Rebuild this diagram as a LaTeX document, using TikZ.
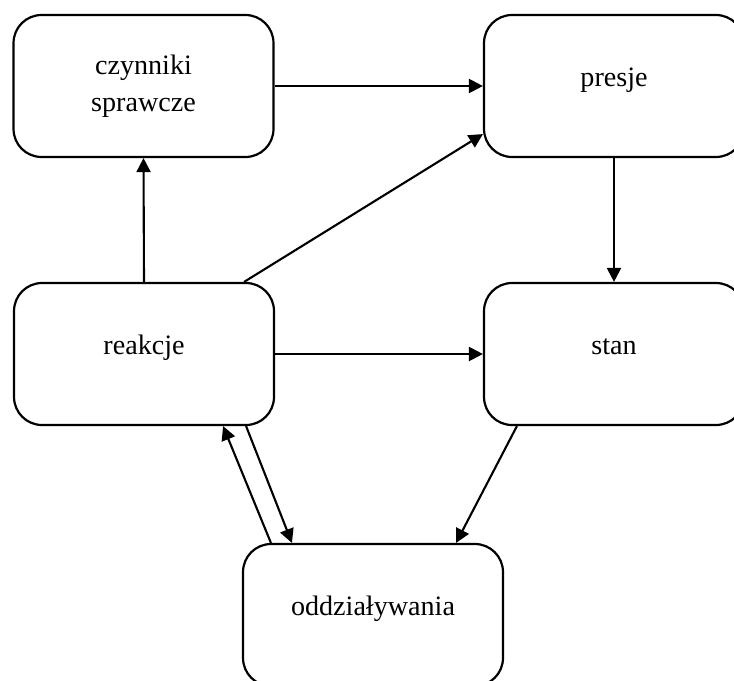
\documentclass[tikz,border=0pt]{standalone}
\usepackage{fontspec}
\setmainfont{Liberation Serif}
\usetikzlibrary{arrows.meta,calc}
\begin{document}
\begin{tikzpicture}[x=0.02cm,y=-0.02cm]
        \tikzstyle{block}=[draw=black,line width=1.25pt,rounded corners=0.56cm,fill=white,minimum width=5.2cm,minimum height=2.84cm,font=\fontsize{16}{21}\selectfont]
        \tikzstyle{oneline}=[text height=0.3cm,text depth=0.3cm]
        \tikzstyle{edge}=[draw,line width=1.2pt,-{Triangle[length=0.28cm,width=0.28cm]}]
        \useasboundingbox (0,0) rectangle (734,680);
        \begin{scope}
                \node [block,align=center] (czynniki) at (143.5,86) {czynniki\\sprawcze};
                \node [block,oneline] (presje) at (614,86) {presje};
                \node [block,oneline] (reakcje) at (144,354) {reakcje};
                \node [block,oneline] (stan) at (614,354) {stan};
                \node [block,oneline] (oddz) at (373,615) {oddziaływania};
                \path (czynniki.east) edge [edge] (presje.west);
                \path (reakcje.north) edge [edge] (czynniki.south);
                \path ($(reakcje.north east)+(-31,0)$) edge [edge] ($(presje.south west)+(0,-24)$);
                \path (presje.south) edge [edge] (stan.north);
                \path (reakcje.east) edge [edge] (stan.west);
                \path ($(reakcje.south east)+(-29,0)$) edge [edge] ($(oddz.north west)+(50,0)$);
                \path ($(oddz.north west)+(29,0)$) edge [edge] ($(reakcje.south east)+(-52,0)$);
                \path ($(stan.south west)+(34,0)$) edge [edge] ($(oddz.north east)+(-48,0)$);
        \end{scope}
\end{tikzpicture}
\end{document}
